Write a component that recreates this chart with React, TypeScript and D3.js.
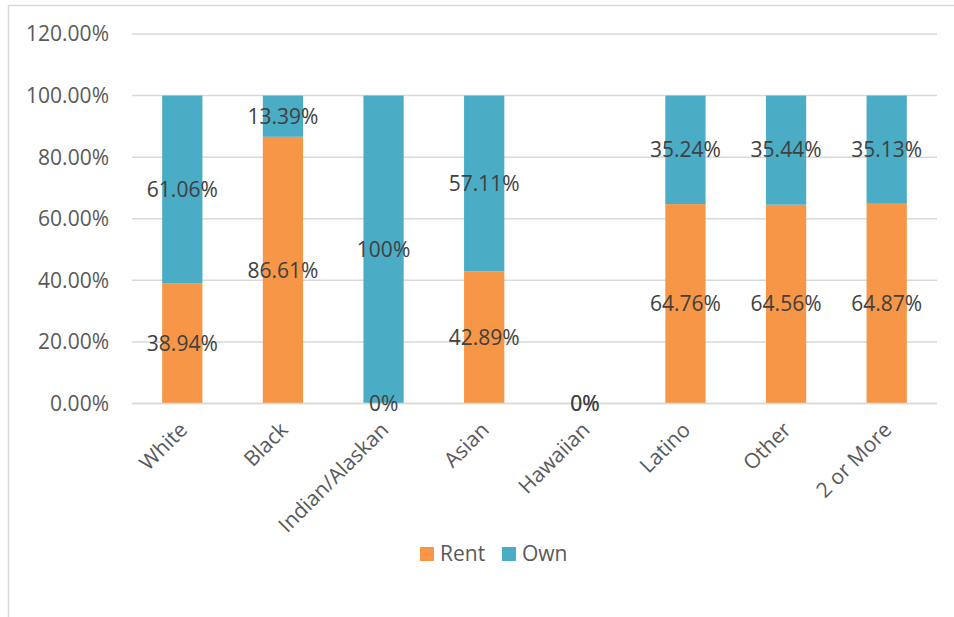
import React from "react";
import * as d3 from "d3";

const categories = ["White", "Black", "Indian/Alaskan", "Asian", "Hawaiian", "Latino", "Other", "2 or More"];
const rentValues = [38.94, 86.61, 0, 42.89, 0, 64.76, 64.56, 64.87];
const ownValues = [61.06, 13.39, 100, 57.11, 0, 35.24, 35.44, 35.13];
const rentLabels = ["38.94%", "86.61%", "0%", "42.89%", "0%", "64.76%", "64.56%", "64.87%"];
const ownLabels = ["61.06%", "13.39%", "100%", "57.11%", "0%", "35.24%", "35.44%", "35.13%"];
const yTicks = [0, 20, 40, 60, 80, 100, 120];
const seriesNames = ["Rent", "Own"];
const seriesColors = ["#F79646", "#4BACC6"];

const W = 954;
const H = 617;
const left = 132;
const right = 937;
const top = 34;
const bottom = 403.5;
const FONT = "'Open Sans', 'DejaVu Sans', sans-serif";
const FS = 21;

export default function App() {
  const x = d3.scaleBand<string>().domain(categories).range([left, right]).paddingInner(0.6).paddingOuter(0.3);
  const y = d3.scaleLinear().domain([0, 120]).range([bottom, top]);
  const bw = x.bandwidth();

  return (
    <svg width={W} height={H} style={{ position: "absolute", left: 0, top: 0, background: "#fff" }}>
      <rect x={8.5} y={5.5} width={1000} height={700} fill="#fff" stroke="#D9D9D9" strokeWidth={1.5} />
      {yTicks.map((t) => (
        <g key={t}>
          <line x1={left} x2={right} y1={y(t)} y2={y(t)} stroke="#D9D9D9" strokeWidth={1.5} />
          <text x={109} y={y(t)} dy="0.35em" textAnchor="end" fontFamily={FONT} fontSize={FS} fill="#595959">
            {t.toFixed(2) + "%"}
          </text>
        </g>
      ))}
      {categories.map((c, i) => {
        const x0 = x(c)!;
        const r = rentValues[i];
        const o = ownValues[i];
        return (
          <g key={c}>
            {r > 0 && <rect x={x0} width={bw} y={y(r)} height={y(0) - y(r)} fill={seriesColors[0]} />}
            {o > 0 && <rect x={x0} width={bw} y={y(r + o)} height={y(r) - y(r + o)} fill={seriesColors[1]} />}
          </g>
        );
      })}
      <line x1={left} x2={right} y1={y(0)} y2={y(0)} stroke="#D9D9D9" strokeWidth={1.5} />
      {categories.map((c, i) => {
        const cx = x(c)! + bw / 2;
        const r = rentValues[i];
        const o = ownValues[i];
        return (
          <g key={c + "-lbl"} fontFamily={FONT} fontSize={FS} fill="#404040" textAnchor="middle">
            <text x={cx} y={y(r / 2)} dy="0.35em">{rentLabels[i]}</text>
            <text x={cx} y={y(r + o / 2)} dy="0.35em">{ownLabels[i]}</text>
          </g>
        );
      })}
      {categories.map((c) => {
        const cx = x(c)! + bw / 2;
        return (
          <text
            key={c + "-ax"}
            transform={`translate(${cx + 1},${426}) rotate(-45)`}
            textAnchor="end"
            dy="0.35em"
            fontFamily={FONT}
            fontSize={FS}
            fill="#595959"
          >
            {c}
          </text>
        );
      })}
      {seriesNames.map((s, i) => {
        const lx = [420, 502][i];
        return (
          <g key={s}>
            <rect x={lx} y={547} width={14} height={14} fill={seriesColors[i]} />
            <text x={lx + 20} y={554} dy="0.35em" fontFamily={FONT} fontSize={FS} fill="#595959">
              {s}
            </text>
          </g>
        );
      })}
    </svg>
  );
}
